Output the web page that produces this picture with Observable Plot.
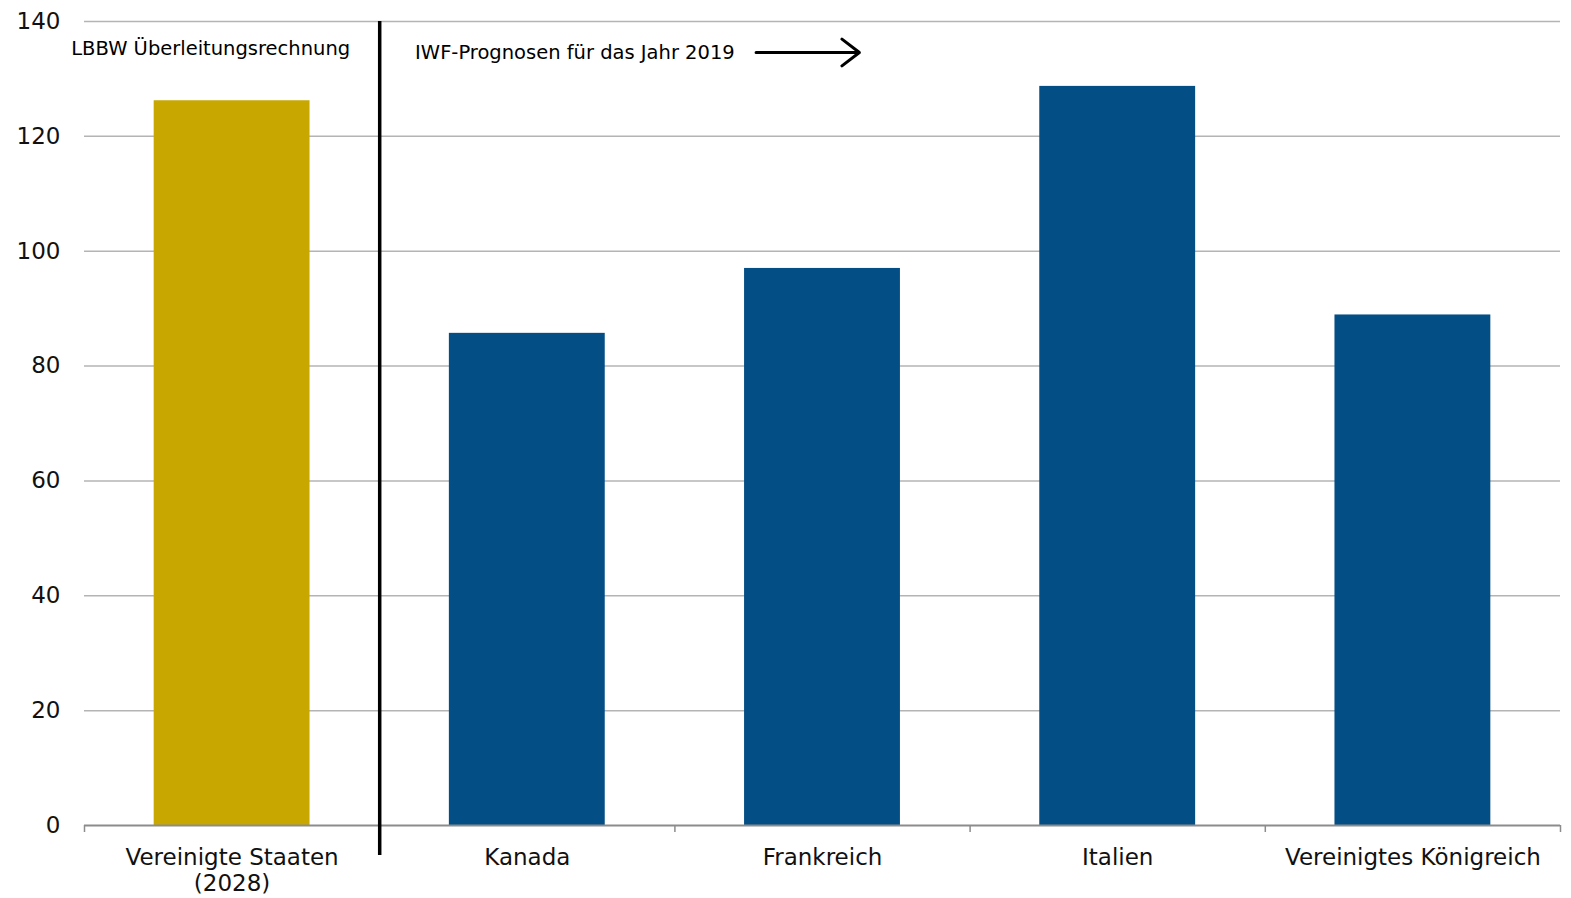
<!DOCTYPE html>
<html>
<head>
<meta charset="utf-8">
<script src="https://cdn.jsdelivr.net/npm/d3@7"></script>
<script src="https://cdn.jsdelivr.net/npm/@observablehq/plot@0.6"></script>
<style>
  html, body { margin: 0; padding: 0; background: #fff; }
  #chart svg { display: block; }
</style>
</head>
<body>
<div id="chart"></div>
<script>
// Staatsverschuldung in % des BIP
const categories = ["Vereinigte Staaten\n(2028)", "Kanada", "Frankreich", "Italien", "Vereinigtes Königreich"];
const values = [126.2, 85.7, 97.0, 128.7, 88.9];
const groups = ["LBBW", "IWF", "IWF", "IWF", "IWF"];
const yTicks = [0, 20, 40, 60, 80, 100, 120, 140];
const annotations = [
  {text: "LBBW Überleitungsrechnung", x: -0.545, y: 135.2},
  {text: "IWF-Prognosen für das Jahr 2019", x: 0.62, y: 134.6}
];
const arrowSpan = {x1: 1.775, x2: 2.125, y: 134.6};

const rows = categories.map((c, i) => ({label: c, pos: i, value: values[i], group: groups[i]}));
const halfBar = 0.264;
const boundaries = d3.range(-0.5, categories.length, 1);

const chart = Plot.plot({
  width: 1571,
  height: 898,
  marginLeft: 84,
  marginRight: 11,
  marginTop: 21,
  marginBottom: 73,
  style: {fontFamily: "'DejaVu Sans', sans-serif", background: "#fff"},
  x: {type: "linear", domain: [-0.5, categories.length - 0.5], axis: null},
  y: {type: "linear", domain: [0, 140], axis: null},
  color: {domain: ["LBBW", "IWF"], range: ["#C8A800", "#024E85"]},
  marks: [
    Plot.ruleY(yTicks.filter(d => d > 0), {stroke: "#b4b4b4", strokeWidth: 1.5}),
    Plot.axisY(yTicks, {tickSize: 0, tickPadding: 24, fontSize: 23, fill: "#111", tickFormat: d => d}),
    Plot.rectY(rows, {x1: d => d.pos - halfBar, x2: d => d.pos + halfBar, y: "value", fill: "group"}),
    Plot.ruleY([0], {stroke: "#8c8c8c", strokeWidth: 2}),
    Plot.ruleX(boundaries, {x: d => d, y1: 0, y2: 0, stroke: "#8c8c8c", strokeWidth: 1.5, insetBottom: -7}),
    Plot.text(rows, {x: "pos", y: 0, text: "label", dy: 22, lineAnchor: "top", fontSize: 23, fill: "#111", lineHeight: 1.1}),
    Plot.ruleX([0.5], {y1: 140, y2: 0, stroke: "#000", strokeWidth: 3.5, insetBottom: -30}),
    Plot.text(annotations, {x: "x", y: "y", text: "text", textAnchor: "start", fontSize: 19.5, fill: "#000"}),
    Plot.arrow([arrowSpan], {x1: "x1", x2: "x2", y1: "y", y2: "y", stroke: "#000", strokeWidth: 3, headLength: 11, headAngle: 75})
  ]
});

document.getElementById("chart").appendChild(chart);
</script>
</body>
</html>
